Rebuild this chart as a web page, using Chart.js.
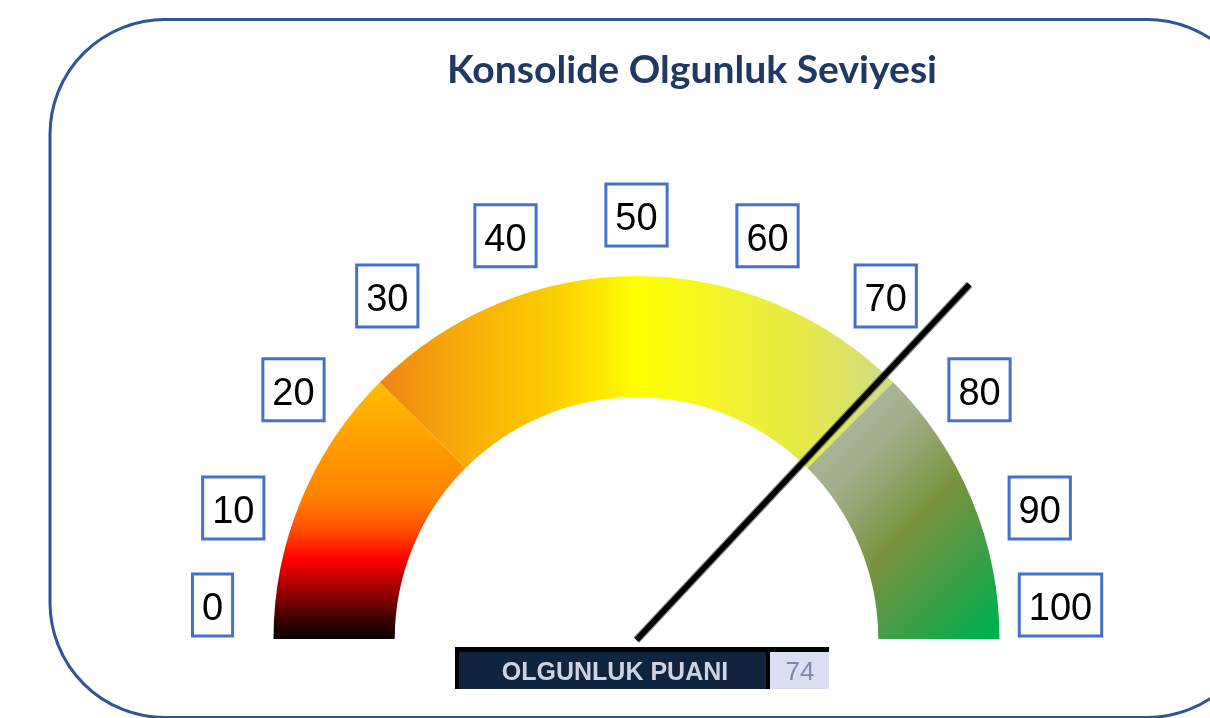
<!DOCTYPE html>
<html>
<head>
<meta charset="utf-8">
<script src="https://cdn.jsdelivr.net/npm/chart.js@4/dist/chart.umd.min.js"></script>
<style>
  html, body { margin: 0; padding: 0; background: #ffffff; }
  #wrap { width: 1210px; height: 718px; position: relative; }
</style>
</head>
<body>
<div id="wrap"><canvas id="c" width="1210" height="718"></canvas></div>
<script>
// ---- data ----
const chartTitle = 'Konsolide Olgunluk Seviyesi';
const segmentLabels = ['Düşük', 'Orta', 'Yüksek'];
const segmentValues = [25, 50, 25];
const tickValues = [0, 10, 20, 30, 40, 50, 60, 70, 80, 90, 100];
const tickLabels = ['0', '10', '20', '30', '40', '50', '60', '70', '80', '90', '100'];
const scoreLabel = 'OLGUNLUK PUANI';
const scoreValue = 74;
const scaleMax = 100;

// ---- helpers ----
function geom(chart) {
  const a = chart.chartArea;
  const r = Math.min((a.right - a.left) / 2, a.bottom - a.top);
  return { cx: (a.left + a.right) / 2, cy: a.bottom, r: r };
}
function addStops(g, stops) { stops.forEach(s => g.addColorStop(s[0], s[1])); return g; }

function segmentFill(ctx) {
  const chart = ctx.chart;
  if (!chart.chartArea) return '#ccc';
  const { cx, cy, r } = geom(chart);
  const c = chart.ctx;
  const k = Math.SQRT1_2;
  if (ctx.dataIndex === 0) {
    return addStops(c.createLinearGradient(0, cy, 0, cy - r * k), [
      [0, '#0a0000'], [0.06, '#300000'], [0.16, '#840000'], [0.31, '#ff0000'],
      [0.43, '#ff5200'], [0.55, '#ff8200'], [0.75, '#ff9c00'], [1, '#ffbe00']
    ]);
  }
  if (ctx.dataIndex === 1) {
    return addStops(c.createLinearGradient(cx - r * k, 0, cx + r * k, 0), [
      [0, '#ee8414'], [0.14, '#f6a80a'], [0.35, '#fcd000'], [0.5, '#ffff00'],
      [0.66, '#f4f42a'], [0.82, '#e6ea48'], [1, '#d0dc86']
    ]);
  }
  return addStops(c.createLinearGradient(cx + 0.45 * r, cy - 0.66 * r, cx + 1.03 * r, cy - 0.08 * r), [
    [0, '#b8bcae'], [0.3, '#a2ae8a'], [0.57, '#77933c'], [0.8, '#3c9e48'], [1, '#00b050']
  ]);
}

// ---- plugin: frame, title, tick boxes, needle, score box ----
const gaugeDecor = {
  id: 'gaugeDecor',
  beforeDraw(chart) {
    const c = chart.ctx;
    c.save();
    c.strokeStyle = '#2F5597';
    c.lineWidth = 3;
    c.beginPath();
    c.roundRect(50, 19.5, 1212, 698, 115);
    c.stroke();
    // title
    c.fillStyle = '#1F3864';
    c.font = 'bold 38px Lato, "Liberation Sans", sans-serif';
    c.textBaseline = 'alphabetic';
    c.textAlign = 'left';
    const w = c.measureText(chartTitle).width;
    const target = 490;
    const sx = Math.max(0.7, Math.min(1.2, target / w));
    c.translate(692 - target / 2, 83);
    c.scale(sx, 1);
    c.fillText(chartTitle, 0, 0);
    c.restore();
  },
  afterDatasetsDraw(chart) {
    const c = chart.ctx;
    const { cx, cy, r } = geom(chart);
    c.save();
    // tick label boxes
    const lr = r * 1.168;
    c.font = '38px "Liberation Sans", Arial, sans-serif';
    c.textAlign = 'center';
    c.textBaseline = 'alphabetic';
    tickValues.forEach((v, i) => {
      const ang = Math.PI * (1 - v / scaleMax);
      const x = cx + lr * Math.cos(ang);
      let y = cy - lr * Math.sin(ang);
      y = Math.min(y, cy - 34);
      const tw = c.measureText(tickLabels[i]).width;
      const bw = tw + 22, bh = 65;
      c.fillStyle = '#ffffff';
      c.fillRect(x - bw / 2, y - bh / 2, bw, bh);
      c.strokeStyle = '#4472C4';
      c.lineWidth = 3;
      c.strokeRect(x - bw / 2 + 1.5, y - bh / 2 + 1.5, bw - 3, bh - 3);
      c.fillStyle = '#000000';
      c.fillText(tickLabels[i], x, y + 15);
    });
    // needle
    const na = Math.PI * (1 - scoreValue / scaleMax);
    const len = r * 1.34;
    const x0 = cx, y0 = cy + 1;
    const x1 = cx + len * Math.cos(na), y1 = cy - len * Math.sin(na);
    c.lineCap = 'butt';
    c.strokeStyle = 'rgba(60,60,60,0.6)';
    c.lineWidth = 8;
    c.beginPath(); c.moveTo(x0, y0); c.lineTo(x1, y1); c.stroke();
    c.strokeStyle = '#000000';
    c.lineWidth = 5.5;
    c.beginPath(); c.moveTo(x0, y0); c.lineTo(x1, y1); c.stroke();
    // score box
    c.fillStyle = '#000000';
    c.fillRect(455, 647, 374, 42);
    c.fillStyle = '#10243E';
    c.fillRect(459, 652, 307, 37);
    c.fillStyle = '#DAE0F2';
    c.fillRect(770, 652, 59, 37);
    c.font = 'bold 25px "Liberation Sans", Arial, sans-serif';
    c.fillStyle = '#cdd3e0';
    c.textAlign = 'center';
    c.fillText(scoreLabel, 615, 680);
    c.font = '26px "Liberation Sans", Arial, sans-serif';
    c.fillStyle = '#7f86a8';
    c.fillText(String(scoreValue), 800, 680);
    c.restore();
  }
};

new Chart(document.getElementById('c'), {
  type: 'doughnut',
  data: {
    labels: segmentLabels,
    datasets: [{
      data: segmentValues,
      backgroundColor: segmentFill,
      borderWidth: 0,
      hoverOffset: 0
    }]
  },
  options: {
    responsive: false,
    devicePixelRatio: 1,
    animation: false,
    rotation: -90,
    circumference: 180,
    cutout: '66.6%',
    layout: { padding: { left: 273.5, right: 210.5, top: 276, bottom: 79 } },
    plugins: {
      legend: { display: false },
      title: { display: false },
      tooltip: { enabled: false }
    }
  },
  plugins: [gaugeDecor]
});
</script>
</body>
</html>
